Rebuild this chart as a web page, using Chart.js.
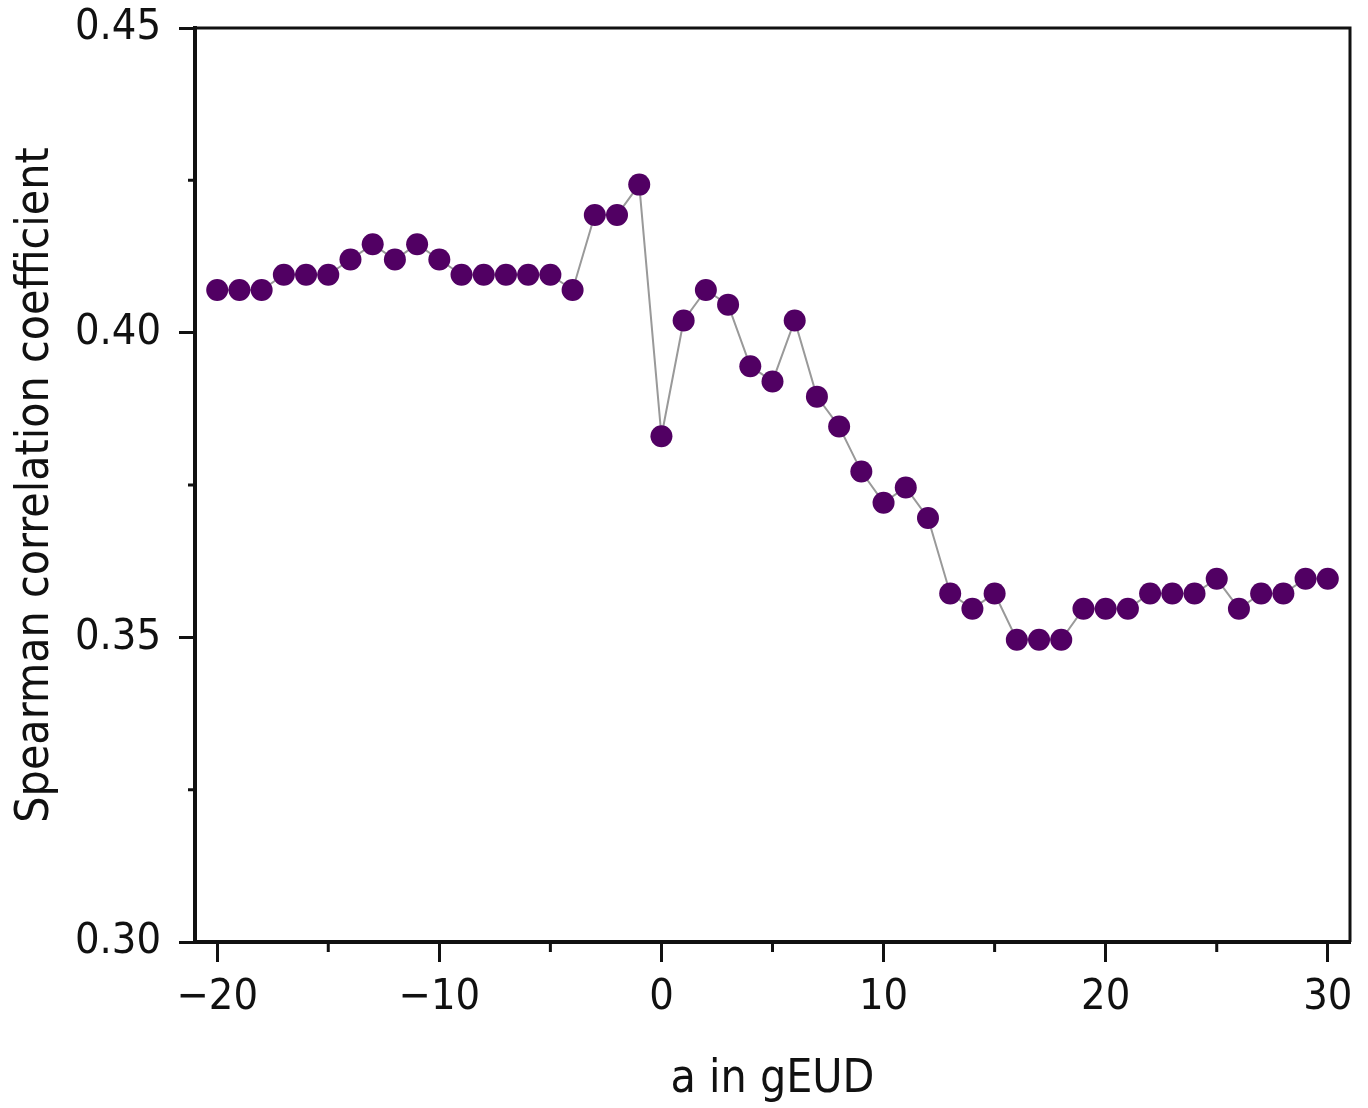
<!DOCTYPE html>
<html>
<head>
<meta charset="utf-8">
<script src="https://cdn.jsdelivr.net/npm/chart.js@4/dist/chart.umd.min.js"></script>
<style>
    html, body { margin: 0; padding: 0; background: #ffffff; }
    #wrap { width: 1368px; height: 1108px; position: relative; }
</style>
</head>
<body>
<div id="wrap"><canvas id="corr_graph"></canvas></div>
<script>
// a in gEUD
const a_values = [-20, -19, -18, -17, -16, -15, -14, -13, -12, -11, -10, -9, -8, -7, -6, -5, -4, -3, -2, -1,
                  0, 1, 2, 3, 4, 5, 6, 7, 8, 9, 10, 11, 12, 13, 14, 15, 16, 17, 18, 19, 20,
                  21, 22, 23, 24, 25, 26, 27, 28, 29, 30];
// Spearman correlation coefficient
const spearman = [0.407, 0.407, 0.407, 0.4095, 0.4095, 0.4095, 0.412, 0.4145, 0.412, 0.4145, 0.412,
                  0.4095, 0.4095, 0.4095, 0.4095, 0.4095, 0.407, 0.4193, 0.4193, 0.4243,
                  0.383, 0.402, 0.407, 0.4046, 0.3945, 0.392, 0.402, 0.3895, 0.3846, 0.3772, 0.3721,
                  0.3746, 0.3696, 0.3572, 0.3547, 0.3572, 0.3496, 0.3496, 0.3496, 0.3547, 0.3547,
                  0.3547, 0.3572, 0.3572, 0.3572, 0.3596, 0.3547, 0.3572, 0.3572, 0.3596, 0.3596];

const x_major = [-20, -10, 0, 10, 20, 30];
const x_minor = [-15, -5, 5, 15, 25];
const y_major = [0.30, 0.35, 0.40, 0.45];
const y_minor = [0.325, 0.375, 0.425];

const FONT = "'DejaVu Sans Condensed', 'DejaVu Sans', sans-serif";

window.addEventListener("load", function (){
    draw_graph();
});

function draw_graph(){

    let points = [];
    for (let i = 0; i < a_values.length; i++){
        points.push({ x: a_values[i], y: spearman[i] });
    }

    // 上と右の枠線、副目盛り
    const frame_plugin = {
        id: "frame",
        afterDraw(chart) {
            const ctx  = chart.ctx;
            const area = chart.chartArea;
            const xs   = chart.scales.x;
            const ys   = chart.scales.y;
            ctx.save();
            ctx.strokeStyle = "#111111";
            ctx.lineWidth   = 3;
            ctx.beginPath();
            ctx.moveTo(area.left, area.top);
            ctx.lineTo(area.right, area.top);
            ctx.lineTo(area.right, area.bottom);
            ctx.stroke();

            ctx.lineWidth = 3;
            ctx.beginPath();
            for (let v of x_minor){
                let px = xs.getPixelForValue(v);
                ctx.moveTo(px, area.bottom);
                ctx.lineTo(px, area.bottom + 10);
            }
            for (let v of y_minor){
                let py = ys.getPixelForValue(v);
                ctx.moveTo(area.left, py);
                ctx.lineTo(area.left - 7, py);
            }
            ctx.stroke();
            ctx.restore();
        }
    };

    const ctx     = document.getElementById("corr_graph").getContext("2d");
    const myChart = new Chart(ctx, {
        type: "line",
        data: {
            datasets: [{
                label: "Spearman",
                data: points,
                borderColor: "#999999",
                borderWidth: 2,
                tension: 0,
                pointRadius: 11,
                pointBackgroundColor: "#510063",
                pointBorderColor: "#510063",
                pointBorderWidth: 0
            }]
        },
        options: {
            responsive: true,
            maintainAspectRatio: false,
            animation: false,
            layout: {
                padding: { left: 0, right: 18, top: 28, bottom: 0 }
            },
            scales: {
                x: {
                    type: "linear",
                    min: -21,
                    max: 31,
                    afterBuildTicks: function(scale){
                        scale.ticks = x_major.map(v => ({ value: v }));
                    },
                    afterFit: function(scale){
                        scale.height       = 1108 - 942;
                        scale.paddingLeft  = 0;
                        scale.paddingRight = 0;
                    },
                    ticks: {
                        font: { family: FONT, size: 43 },
                        color: "#111111",
                        padding: 10,
                        maxRotation: 0,
                        callback: function(value){
                            return value < 0 ? "\u2212" + Math.abs(value) : String(value);
                        }
                    },
                    grid: {
                        drawOnChartArea: false,
                        drawTicks: true,
                        tickLength: 20,
                        tickWidth: 3,
                        tickColor: "#111111"
                    },
                    border: { display: true, color: "#111111", width: 4 },
                    title: {
                        display: true,
                        text: "a in gEUD",
                        font: { family: FONT, size: 46 },
                        color: "#111111",
                        padding: { top: 18, bottom: 0 }
                    }
                },
                y: {
                    type: "linear",
                    min: 0.30,
                    max: 0.45,
                    afterBuildTicks: function(scale){
                        scale.ticks = y_major.map(v => ({ value: v }));
                    },
                    afterFit: function(scale){
                        scale.width         = 195;
                        scale.paddingTop    = 0;
                        scale.paddingBottom = 0;
                    },
                    ticks: {
                        font: { family: FONT, size: 43 },
                        color: "#111111",
                        padding: 18,
                        callback: function(value){
                            return value.toFixed(2);
                        }
                    },
                    grid: {
                        drawOnChartArea: false,
                        drawTicks: true,
                        tickLength: 16,
                        tickWidth: 3,
                        tickColor: "#111111"
                    },
                    border: { display: true, color: "#111111", width: 4 },
                    title: {
                        display: true,
                        text: "Spearman correlation coefficient",
                        font: { family: FONT, size: 46 },
                        color: "#111111",
                        padding: { top: 8, bottom: 6 }
                    }
                }
            },
            plugins: {
                legend: { display: false },
                tooltip: { enabled: false }
            }
        },
        plugins: [ frame_plugin ]
    });
}
</script>
</body>
</html>
